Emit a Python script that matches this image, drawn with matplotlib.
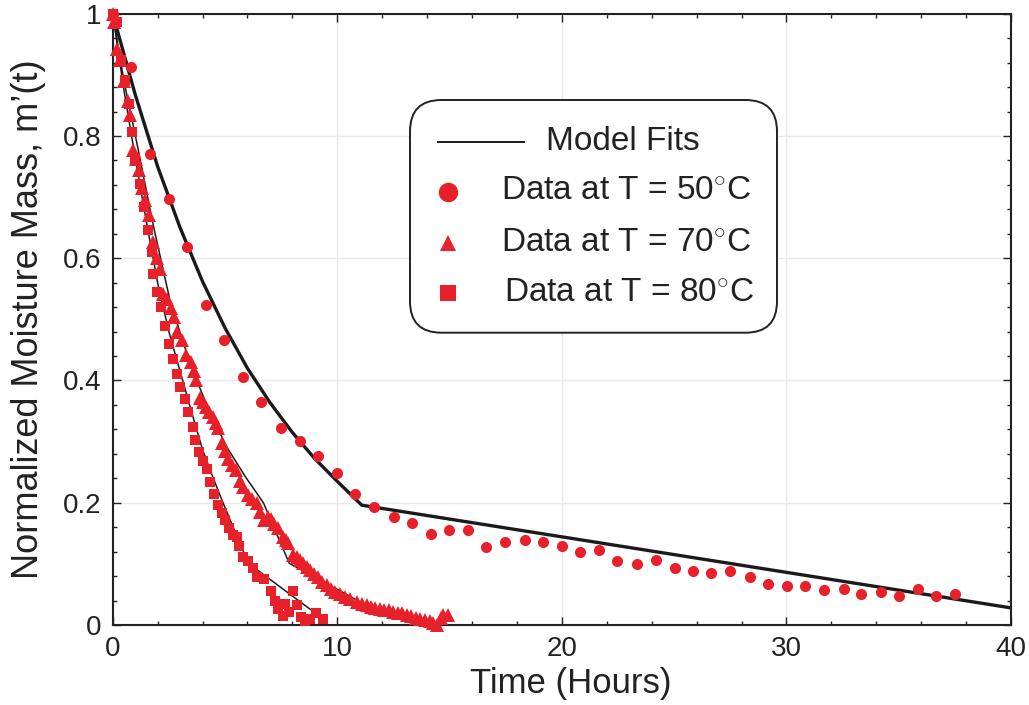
import matplotlib
matplotlib.use("Agg")
import matplotlib.pyplot as plt
from matplotlib.patches import FancyBboxPatch
from matplotlib.ticker import MultipleLocator

plt.rcParams['font.family'] = ['Liberation Sans', 'DejaVu Sans']
plt.rcParams['mathtext.fontset'] = 'custom'
plt.rcParams['mathtext.rm'] = 'Liberation Sans'

RED = '#E8202A'

# ---- data: 50 C ----
t50 = [0.0, 0.80, 1.66, 2.49, 3.32, 4.15, 4.97, 5.80, 6.62, 7.49, 8.32, 9.15, 9.97,
       10.80, 11.63, 12.51, 13.33, 14.16, 14.97, 15.81, 16.64, 17.45, 18.34, 19.17,
       20.00, 20.83, 21.64, 22.47, 23.36, 24.19, 25.02, 25.84, 26.66, 27.48, 28.37,
       29.20, 30.02, 30.84, 31.66, 32.55, 33.31, 34.19, 35.02, 35.84, 36.67, 37.50]
v50 = [1.000, 0.913, 0.770, 0.697, 0.619, 0.524, 0.467, 0.406, 0.364, 0.323, 0.301,
       0.277, 0.249, 0.214, 0.193, 0.176, 0.167, 0.149, 0.156, 0.156, 0.127, 0.135,
       0.139, 0.135, 0.130, 0.119, 0.122, 0.104, 0.100, 0.106, 0.094, 0.089, 0.085,
       0.089, 0.078, 0.067, 0.063, 0.063, 0.057, 0.059, 0.050, 0.054, 0.048, 0.059,
       0.048, 0.050]

# ---- data: 70 C ----
t70 = [0.00, 0.06, 0.20, 0.33, 0.50, 0.66, 0.77, 0.89, 1.04, 1.17, 1.30, 1.44, 1.63,
       1.78, 1.96, 2.10, 2.23, 2.40, 2.58, 2.73, 2.85, 3.07, 3.26, 3.47, 3.60, 3.71,
       3.89, 4.02, 4.15, 4.30, 4.45, 4.58, 4.70, 4.88, 5.02, 5.15, 5.32, 5.49, 5.66,
       5.82, 6.01, 6.20, 6.41, 6.58, 6.75, 6.90, 7.05, 7.20, 7.38, 7.57, 7.70, 7.82,
       8.04, 8.19, 8.34, 8.49, 8.64, 8.78, 8.97, 9.16, 9.34, 9.53, 9.71, 9.90, 10.12,
       10.34, 10.57, 10.86, 11.08, 11.31, 11.50, 11.68, 11.90, 12.10, 12.30, 12.50,
       12.70, 12.90, 13.09, 13.30, 13.50, 13.68, 13.90, 14.13, 14.28, 14.43, 14.60,
       14.72, 14.94]
v70 = [1.000, 0.987, 0.943, 0.924, 0.890, 0.858, 0.834, 0.777, 0.762, 0.745, 0.715,
       0.695, 0.670, 0.626, 0.600, 0.583, 0.542, 0.534, 0.518, 0.504, 0.480, 0.467,
       0.442, 0.431, 0.415, 0.401, 0.371, 0.365, 0.357, 0.349, 0.341, 0.331, 0.322,
       0.298, 0.285, 0.271, 0.262, 0.253, 0.236, 0.225, 0.213, 0.206, 0.199, 0.185,
       0.172, 0.176, 0.174, 0.165, 0.158, 0.144, 0.139, 0.134, 0.114, 0.112, 0.106,
       0.101, 0.095, 0.090, 0.084, 0.079, 0.071, 0.065, 0.059, 0.054, 0.050, 0.046,
       0.042, 0.038, 0.035, 0.033, 0.030, 0.027, 0.026, 0.025, 0.024, 0.022, 0.020,
       0.019, 0.017, 0.014, 0.012, 0.010, 0.008, 0.007, 0.004, 0.000, 0.012, 0.016,
       0.016]

# ---- data: 80 C ----
t80 = [0.0, 0.18, 0.35, 0.55, 0.73, 0.85, 0.98, 1.22, 1.38, 1.59, 1.74, 1.81, 1.97,
       2.14, 2.33, 2.52, 2.67, 2.85, 3.00, 3.20, 3.37, 3.56, 3.66, 3.86, 4.00, 4.18,
       4.33, 4.53, 4.70, 4.85, 5.00, 5.16, 5.37, 5.55, 5.64, 5.82, 6.01, 6.26, 6.41,
       6.74, 7.04, 7.23, 7.37, 7.57, 7.67, 7.86, 8.01, 8.19, 8.37, 8.56, 8.78, 9.05,
       9.38]
v80 = [1.0, 0.986, 0.925, 0.892, 0.852, 0.807, 0.763, 0.721, 0.683, 0.646, 0.610,
       0.575, 0.545, 0.521, 0.489, 0.459, 0.435, 0.410, 0.389, 0.370, 0.349, 0.324,
       0.303, 0.283, 0.269, 0.255, 0.234, 0.214, 0.197, 0.183, 0.172, 0.159, 0.147,
       0.144, 0.129, 0.112, 0.104, 0.093, 0.079, 0.075, 0.056, 0.040, 0.026, 0.015,
       0.035, 0.022, 0.056, 0.033, 0.013, 0.007, 0.009, 0.020, 0.009]

# ---- model fit curves ----
fit50_t = [0, 1, 2, 3, 4, 5, 6, 7, 8, 9, 10, 11.09, 40]
fit50_v = [1.0, 0.868, 0.750, 0.650, 0.562, 0.486, 0.420, 0.364, 0.315, 0.272,
           0.235, 0.196, 0.028]
fit70_t = [0, 0.5, 1.14, 1.8, 2.55, 3.2, 3.74, 4.4, 5.1, 5.9, 6.71, 7.86, 12.0]
fit70_v = [1.0, 0.89, 0.777, 0.655, 0.531, 0.455, 0.400, 0.342, 0.290, 0.243, 0.200,
           0.101, 0.018]
fit80_t = [0, 0.5, 1.0, 1.5, 2.0, 2.5, 3.0, 3.5, 4.0, 4.5, 5.0, 5.5, 6.04, 8.93]
fit80_v = [1.0, 0.875, 0.765, 0.660, 0.560, 0.480, 0.415, 0.350, 0.287, 0.238,
           0.192, 0.148, 0.101, 0.022]

xticks = [0, 10, 20, 30, 40]
yticks = [0, 0.2, 0.4, 0.6, 0.8, 1.0]
ytick_labels = ['0', '0.2', '0.4', '0.6', '0.8', '1']

W, H = 1029, 705
fig = plt.figure(figsize=(W / 100, H / 100), dpi=100)
L, R, T, B = 112.7, 1011.0, 13.7, 625.0
ax = fig.add_axes([L / W, 1 - B / H, (R - L) / W, (B - T) / H])

ax.set_xlim(0, 40)
ax.set_ylim(0, 1)
ax.set_xticks(xticks)
ax.set_xticklabels([str(x) for x in xticks])
ax.set_yticks(yticks)
ax.set_yticklabels(ytick_labels)
ax.xaxis.set_minor_locator(MultipleLocator(2))
ax.yaxis.set_minor_locator(MultipleLocator(0.04))
ax.tick_params(which='both', direction='in', top=True, right=True, width=1.0,
               colors='#222222', labelcolor='#222222')
ax.tick_params(which='major', length=6, labelsize=20, pad=8)
ax.tick_params(which='minor', length=3)
ax.grid(True, which='major', color='#e9e9e9', linewidth=1.0)
ax.set_axisbelow(True)
for s in ax.spines.values():
    s.set_linewidth(1.5)
    s.set_color('#222222')

ax.plot(fit50_t, fit50_v, color='#1a1a1a', lw=2.4, zorder=3)
ax.plot(fit70_t, fit70_v, color='#1a1a1a', lw=1.1, zorder=3)
ax.plot(fit80_t, fit80_v, color='#1a1a1a', lw=1.1, zorder=3)

ax.plot(t50, v50, 'o', color=RED, ms=8.0, mew=0, zorder=4, clip_on=False)
ax.plot(t70, v70, '^', color=RED, ms=9.8, mew=0, zorder=4, clip_on=False)
ax.plot(t80, v80, 's', color=RED, ms=6.8, mew=0, zorder=4, clip_on=False)

ax.set_xlabel('Time (Hours)', fontsize=25, color='#222222', labelpad=4)
ax.xaxis.set_label_coords(0.51, -0.068)
ax.set_ylabel('Normalized Moisture Mass, m\u2019(t)', fontsize=26, color='#222222',
              labelpad=12)

# ---- legend drawn in axes fraction coords ----
def fx(px):
    return (px - L) / (R - L)

def fy(py):
    return (B - py) / (B - T)

box = FancyBboxPatch((fx(410), fy(332.7)), fx(777) - fx(410), fy(100) - fy(332.7),
                     boxstyle='round,pad=0,rounding_size=0.035',
                     transform=ax.transAxes, facecolor='white', edgecolor='#222222',
                     lw=1.4, zorder=6, mutation_aspect=(R - L) / (B - T))
ax.add_patch(box)
ax.plot([fx(437.7), fx(524)], [fy(141.7), fy(141.7)], transform=ax.transAxes,
        color='#1a1a1a', lw=1.4, zorder=7, clip_on=False)
ax.plot([fx(448.3)], [fy(191.7)], 'o', transform=ax.transAxes, color=RED, ms=14,
        mew=0, zorder=7, clip_on=False)
ax.plot([fx(448.3)], [fy(243.3)], '^', transform=ax.transAxes, color=RED, ms=11,
        mew=0, zorder=7, clip_on=False)
ax.plot([fx(448.3)], [fy(293.3)], 's', transform=ax.transAxes, color=RED, ms=11,
        mew=0, zorder=7, clip_on=False)
lkw = dict(transform=ax.transAxes, fontsize=24, color='#222222', va='center',
           ha='left', zorder=8)
ax.text(fx(545.7), fy(141.7), 'Model Fits', **lkw)
ax.text(fx(501), fy(191.7), r'Data at T = 50$^{\circ}$C', **lkw)
ax.text(fx(501), fy(243.3), r'Data at T = 70$^{\circ}$C', **lkw)
ax.text(fx(504), fy(293.3), r'Data at T = 80$^{\circ}$C', **lkw)

fig.savefig('out.png', dpi=100)
